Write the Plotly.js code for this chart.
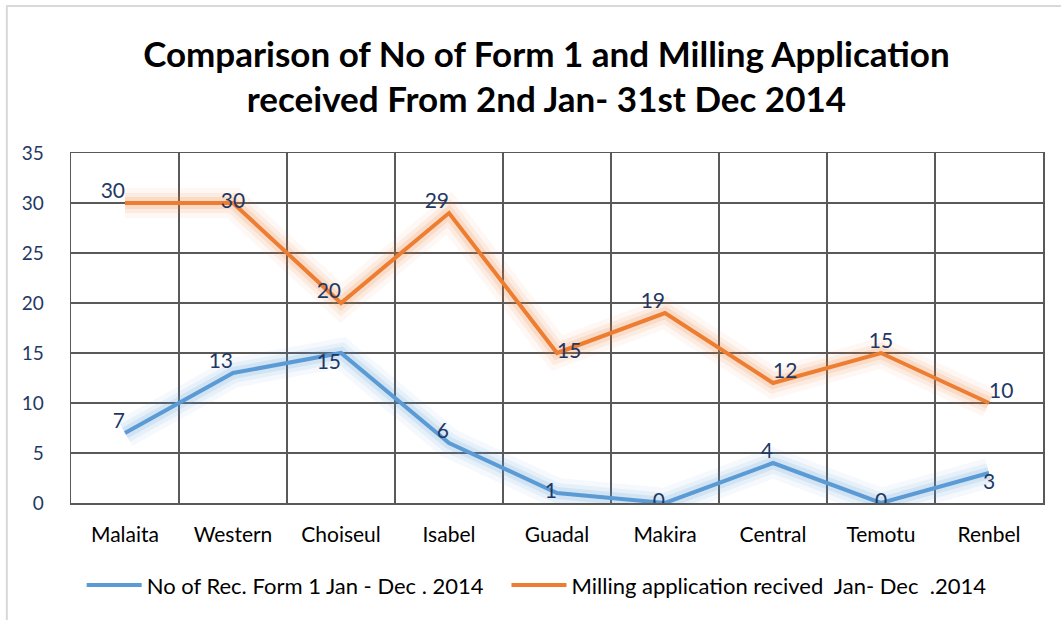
<!DOCTYPE html>
<html><head><meta charset="utf-8">
<script src="https://cdn.plot.ly/plotly-3.0.1.min.js"></script>
<style>html,body{margin:0;padding:0;background:#fff}#chart{width:1061px;height:620px}</style>
</head><body><div id="chart"></div>
<script>
const categories = ["Malaita","Western","Choiseul","Isabel","Guadal","Makira","Central","Temotu","Renbel"];
const form1 = [7,13,15,6,1,0,4,0,3];
const milling = [30,30,20,29,15,19,12,15,10];
const form1Name = "No of Rec. Form 1 Jan - Dec . 2014";
const millingName = "Milling application recived  Jan- Dec  .2014";
const form1LabelPos = ["top left","top left","bottom left","top left","middle left","middle left","top left","middle center","bottom center"];
const millingLabelPos = ["top left","middle center","top left","top left","middle right","top left","top right","top center","top right"];

const blue = "#5b9bd5", orange = "#ed7d31", navy = "#1f3864";
const font = "Lato, 'Open Sans', sans-serif";

function glow(y, color, w, op){
  return {x:categories, y:y, type:"scatter", mode:"lines", showlegend:false, hoverinfo:"skip",
    line:{color:color, width:w}, opacity:op};
}
const traces = [
  glow(form1, blue, 30, 0.06), glow(form1, blue, 20, 0.09), glow(form1, blue, 12, 0.14),
  glow(milling, orange, 30, 0.06), glow(milling, orange, 20, 0.09), glow(milling, orange, 12, 0.14),
  {x:categories, y:form1, name:form1Name, legend:"legend", type:"scatter", mode:"lines+text", text:form1.map(String),
   textposition:form1LabelPos, textfont:{color:navy, size:21, family:font}, line:{color:blue, width:4}},
  {x:categories, y:milling, name:millingName, legend:"legend2", type:"scatter", mode:"lines+text", text:milling.map(String),
   textposition:millingLabelPos, textfont:{color:navy, size:21, family:font}, line:{color:orange, width:4}}
];

const legendBase = {orientation:"h", xanchor:"left", y:-0.235, yanchor:"middle", font:{size:22, color:"#000", family:font},
  itemwidth:55, bgcolor:"rgba(0,0,0,0)"};

const layout = {
  width:1061, height:620,
  margin:{l:71, r:18, t:153, b:117},
  paper_bgcolor:"#fff", plot_bgcolor:"#fff",
  font:{family:font, color:"#000"},
  title:{text:"<b>Comparison of No of Form 1 and Milling Application<br>received From 2nd Jan- 31st Dec 2014</b>",
    font:{size:35, color:"#000", family:font}, x:0.515, xanchor:"center", y:0.892, yanchor:"middle"},
  xaxis:{type:"category", range:[-0.5,8.5], tickson:"boundaries", showgrid:true, gridcolor:"#595959", gridwidth:1.5,
    ticks:"", ticklabelstandoff:12, tickfont:{size:21, color:"#000", family:font}, showline:true, linecolor:"#595959", linewidth:1.5, mirror:true,
    zeroline:false, fixedrange:true},
  yaxis:{range:[0,35], dtick:5, showgrid:true, gridcolor:"#595959", gridwidth:1.5, ticks:"", ticklabelstandoff:22,
    tickfont:{size:19, color:navy, family:font}, showline:true, linecolor:"#595959", linewidth:1.5, mirror:true, zeroline:false},
  showlegend:true,
  legend:Object.assign({}, legendBase, {x:0.011}),
  legend2:Object.assign({}, legendBase, {x:0.448}),
  shapes:[{type:"rect", xref:"paper", yref:"paper", x0:-0.066, x1:1.02, y0:-0.34, y1:1.42, line:{color:"#d9d9d9", width:2}}]
};
Plotly.newPlot("chart", traces, layout, {displayModeBar:false, staticPlot:true});
</script></body></html>
